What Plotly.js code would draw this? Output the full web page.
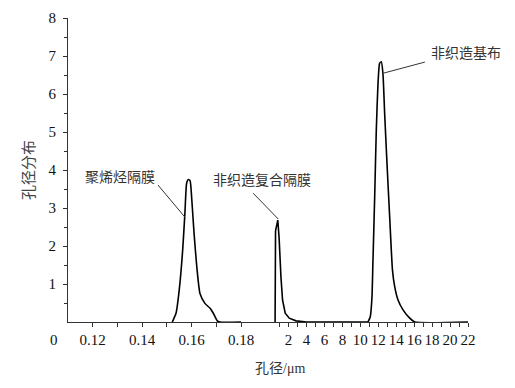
<!DOCTYPE html>
<html>
<head>
<meta charset="utf-8">
<script src="https://cdn.plot.ly/plotly-3.0.1.min.js"></script>
<style>html,body{margin:0;padding:0;background:#fff;}</style>
</head>
<body>
<div id="chart" style="width:515px;height:388px;"></div>
<script>
// Polyolefin separator (left, sub-micron axis)
const polyX = [0.1522,0.1537,0.155,0.1564,0.1573,0.158,0.1587,0.1594,0.1601,0.161,0.1621,0.1634,0.1654,0.1675,0.1688,0.1704,0.1715,0.18];
const polyY = [0,0.23,0.84,1.89,2.86,3.65,3.75,3.72,3.21,2.34,1.46,0.75,0.49,0.36,0.23,0.03,0,0];
// Non-woven composite separator (right axis, µm)
const compX = [0.5,0.55,0.8,0.95,1.15,1.33,1.63,2.08,2.83,4,10.85];
const compY = [0,2.4,2.68,2.2,1.19,0.58,0.23,0.1,0.03,0,0];
// Non-woven substrate
const nwX = [10.85,11.11,11.3,11.4,11.6,11.78,11.97,12.15,12.34,12.52,12.71,12.97,13.27,13.58,13.83,14.2,14.76,15.51,16.07,22];
const nwY = [0,0.14,0.67,1.54,3.3,5.05,6.28,6.81,6.85,6.54,5.49,4.18,2.77,1.37,0.93,0.58,0.32,0.1,0,0];
// Tick labels
const leftTicks = [0.12,0.14,0.16,0.18];
const leftTickText = ['0.12','0.14','0.16','0.18'];
const leftMinor = [0.13,0.15,0.17];
const rightTicks = [2,4,6,8,10,12,14,16,18,20,22];
const rightMinor = [1,3,5,7,9,11,13,15,17,19,21];
const yTicks = [1,2,3,4,5,6,7,8];
const yMinor = [0.5,1.5,2.5,3.5,4.5,5.5,6.5,7.5];
const labels = ['聚烯烃隔膜','非织造复合隔膜','非织造基布'];
const xTitle = '孔径/μm';
const yTitle = '孔径分布';

const FONT = "'Liberation Serif', 'Noto Sans CJK SC', serif";
const AX = '#333';
const lineStyle = {color:'#000', width:1.6, shape:'spline', smoothing:0.5};

const traces = [
  {x:polyX, y:polyY, xaxis:'x', yaxis:'y', mode:'lines', line:lineStyle, cliponaxis:false, name:labels[0]},
  {x:compX, y:compY, xaxis:'x2', yaxis:'y', mode:'lines', line:{color:'#000', width:1.6, shape:'linear'}, cliponaxis:false, name:labels[1]},
  {x:nwX, y:nwY, xaxis:'x2', yaxis:'y', mode:'lines', line:lineStyle, cliponaxis:false, name:labels[2]}
];

const axCommon = {
  showline:true, linecolor:AX, linewidth:1, showgrid:false, zeroline:false,
  ticks:'outside', ticklen:4, tickcolor:AX, tickwidth:1,
  tickfont:{family:FONT, size:15, color:'#111'}
};

function lbl(x, y, text, color, size) {
  return {xref:'paper', yref:'paper', x:x, y:y, xanchor:'center', yanchor:'middle',
          text:text, showarrow:false, font:{family:FONT, size:size || 14, color:color}};
}

const layout = {
  width:515, height:388,
  margin:{l:68, r:47, t:18, b:66},
  paper_bgcolor:'#fff', plot_bgcolor:'#fff',
  showlegend:false,
  font:{family:FONT, color:'#222'},
  xaxis: Object.assign({}, axCommon, {
    domain:[0,0.4325], range:[0.11,0.18], anchor:'y',
    tickmode:'array', tickvals:leftTicks, ticktext:leftTickText,
    minor:{tickmode:'array', tickvals:leftMinor, ticks:'outside', ticklen:4, tickcolor:AX}
  }),
  xaxis2: Object.assign({}, axCommon, {
    domain:[0.4325,1], range:[-3.3,22], anchor:'y',
    tickmode:'array', tickvals:rightTicks,
    minor:{tickmode:'array', tickvals:rightMinor, ticks:'outside', ticklen:4, tickcolor:AX}
  }),
  yaxis: Object.assign({}, axCommon, {
    range:[0,8], anchor:'x',
    tickmode:'array', tickvals:yTicks, ticklabelstandoff:4,
    minor:{tickmode:'array', tickvals:yMinor, ticks:'outside', ticklen:3, tickcolor:AX},
    title:{text:yTitle, font:{family:FONT, size:15, color:'#444'}, standoff:10}
  }),
  annotations:[
    lbl(-0.035, -0.059, '0', '#111', 15),
    lbl(0.53, -0.1546, xTitle, '#333', 14),
    lbl(0.13, 0.474, labels[0], '#333', 14),
    lbl(0.486, 0.467, labels[1], '#333', 14),
    lbl(0.995, 0.8865, labels[2], '#333', 14)
  ],
  shapes:[
    {type:'line', xref:'x', yref:'y', x0:0.1464, y0:3.605, x1:0.1573, y1:2.76, line:{color:'#333', width:1}},
    {type:'line', xref:'x2', yref:'y', x0:-1.95, y0:3.39, x1:0.85, y1:2.71, line:{color:'#333', width:1}},
    {type:'line', xref:'x2', yref:'y', x0:17.19, y0:6.84, x1:12.6, y1:6.55, line:{color:'#333', width:1}}
  ]
};

Plotly.newPlot('chart', traces, layout, {displayModeBar:false, staticPlot:true});
</script>
</body>
</html>
